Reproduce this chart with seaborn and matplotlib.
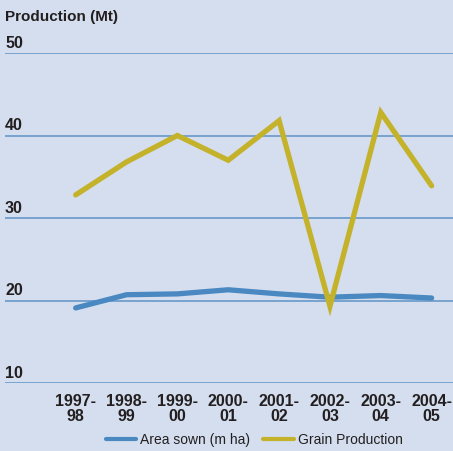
import pandas as pd
import numpy as np
import matplotlib
matplotlib.use('Agg')
import matplotlib.pyplot as plt
import seaborn as sns
from matplotlib.lines import Line2D

# data
years = ['1997-\n98', '1998-\n99', '1999-\n00', '2000-\n01',
         '2001-\n02', '2002-\n03', '2003-\n04', '2004-\n05']
area_sown = [19.1, 20.7, 20.8, 21.3, 20.8, 20.4, 20.6, 20.3]
grain_production = [32.8, 36.8, 40.0, 37.0, 41.8, 19.3, 42.8, 33.9]
y_ticks = [10, 20, 30, 40, 50]

BG = '#d4deee'
BLUE = '#4a88c2'
GOLD = '#c4b22b'
GRID = '#5f93c8'
TXT = '#231f20'

sns.set_theme(style='white')
plt.rcParams['font.family'] = ['Liberation Sans', 'DejaVu Sans']

df = pd.DataFrame({
    'x': list(range(len(years))) * 2,
    'value': area_sown + grain_production,
    'series': ['Area sown (m ha)'] * len(years) + ['Grain Production'] * len(years),
})

fig = plt.figure(figsize=(4.53, 4.51), dpi=100, facecolor=BG)
ax = fig.add_axes([5 / 453, 1 - 383 / 451, 448 / 453, 330 / 451])
ax.set_facecolor(BG)

for t in y_ticks:
    ax.axhline(t, color=GRID, lw=1.1, zorder=1)

sns.lineplot(data=df, x='x', y='value', hue='series',
             palette={'Area sown (m ha)': BLUE, 'Grain Production': GOLD},
             lw=3.8, legend=False, ax=ax, zorder=3,
             solid_capstyle='round', solid_joinstyle='miter')

ax.set_xlim(-1.39, 7.42)
ax.set_ylim(10, 50)
ax.set_xticks([])
ax.set_yticks([])
ax.set_xlabel('')
ax.set_ylabel('')
for s in ax.spines.values():
    s.set_visible(False)

# y labels sit right on top of their gridlines
for t in y_ticks:
    ax.text(0.0, t + 0.25, str(t), transform=ax.get_yaxis_transform(),
            ha='left', va='bottom', fontsize=11.5, fontweight='bold', color=TXT)

for i, lab in enumerate(years):
    ax.text(i, 8.7, lab, ha='center', va='top', fontsize=11.5, fontweight='bold',
            color=TXT, linespacing=1.0, clip_on=False)

fig.text(5 / 453, 1 - 17 / 451, 'Production (Mt)', ha='left', va='center',
         fontsize=11, fontweight='bold', color=TXT)

handles = [Line2D([], [], color=BLUE, lw=3), Line2D([], [], color=GOLD, lw=3)]
fig.legend(handles, ['Area sown (m ha)', 'Grain Production'], loc='center',
           bbox_to_anchor=(0.561, 1 - 440 / 451), ncol=2, frameon=False,
           fontsize=10, handlelength=2.2, handletextpad=0.3, columnspacing=0.9,
           labelcolor=TXT)

fig.savefig('out.png', dpi=100, facecolor=BG)
